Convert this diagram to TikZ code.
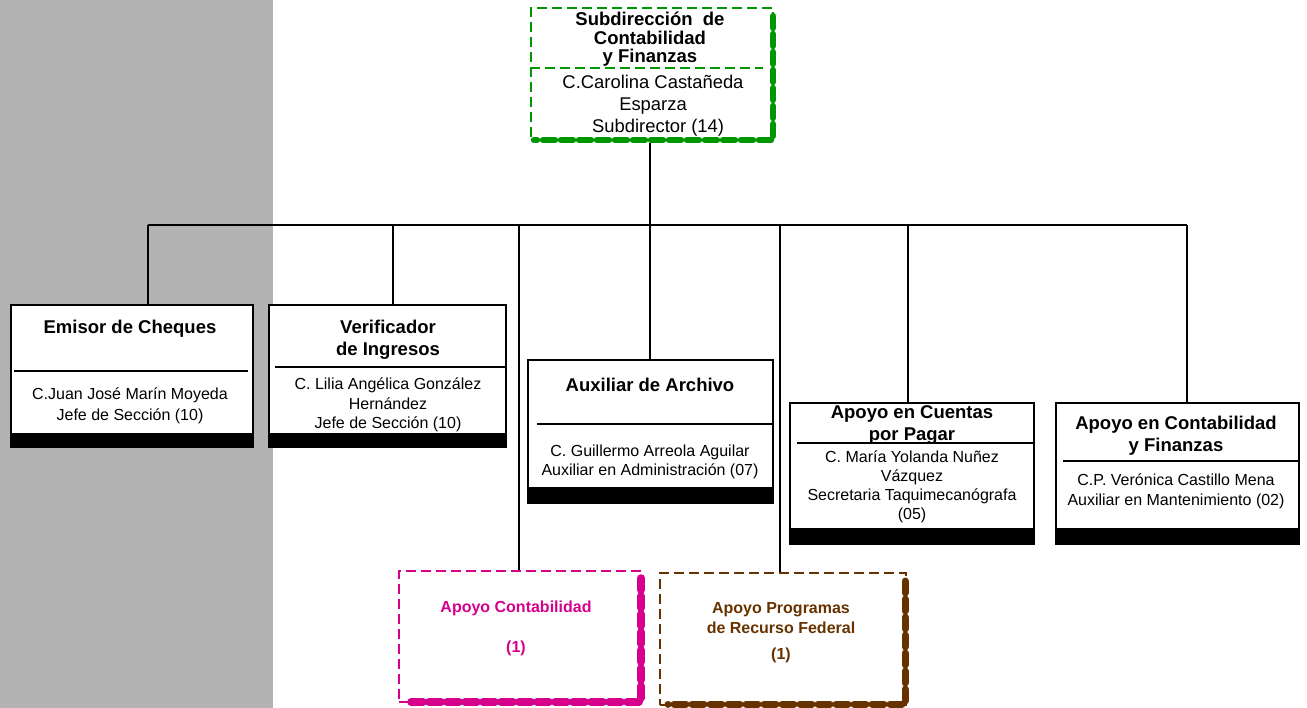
\documentclass[tikz,border=0pt]{standalone}
\usepackage{fontspec}
\setmainfont{Liberation Sans}
\definecolor{grisfondo}{RGB}{179,179,179}
\definecolor{verde}{RGB}{0,150,0}
\definecolor{rosa}{RGB}{214,0,140}
\definecolor{cafe}{RGB}{102,51,0}
\begin{document}
\begin{tikzpicture}[x=1pt,y=-1pt,
  hdr/.style={font=\bfseries\fontsize{18.5}{22}\selectfont, align=center, inner sep=0pt},
  txt/.style={font=\fontsize{16}{19.5}\selectfont, align=center, inner sep=0pt},
  sml/.style={font=\bfseries\fontsize{16}{20}\selectfont, align=center, inner sep=0pt},
  orgbox/.style={draw=black, line width=2pt, fill=white, anchor=north west, inner sep=0pt},
  bar/.style={fill=black},
  divline/.style={line width=2pt},
  conn/.style={line width=2pt},
  dbox/.style={line width=2pt, dash pattern=on 10pt off 5pt, anchor=north west, inner sep=0pt},
  shade/.style={line width=6.5pt, line cap=round, dash pattern=on 12pt off 6pt}
]
\useasboundingbox (0,0) rectangle (1307,708);
\fill[grisfondo] (0,0) rectangle (273,708);

% top box
\node[dbox, draw=verde, minimum width=242pt, minimum height=132pt] (top) at (530,7) {};
\draw[shade, verde] (773,16) -- (773,140) -- (534,140);
\draw[verde, line width=2pt, dash pattern=on 10pt off 5pt] (top.west |- 0,68) -- (763,68);
\node[hdr, font=\bfseries\fontsize{18.5}{18.5}\selectfont] (toptitle) at (650,39.5) {Subdirección\ \ de\\Contabilidad\\y Finanzas};
\node[txt, font=\fontsize{18.4}{22}\selectfont] (toptext) at (653,106) {C.Carolina Castañeda\\Esparza\\\ \ Subdirector (14)};

% bus
\coordinate (trunk) at (650,225);
\coordinate (b1) at (148,225);
\coordinate (b2) at (393,225);
\coordinate (b3) at (519,225);
\coordinate (b4) at (650,225);
\coordinate (b5) at (780,225);
\coordinate (b6) at (908,225);
\coordinate (b7) at (1187,225);
\draw[conn] (650,143) -- (trunk);
\draw[conn] (b1) -- (b7);

% Emisor
\node[orgbox, minimum width=242pt, minimum height=142pt] (emisor) at (10,304) {};
\fill[bar] (10,433) rectangle (253,447);
\draw[divline] (14,371) -- (248,371);
\node[hdr] (emisorT) at (130,329) {Emisor de Cheques};
\node[txt, font=\fontsize{16}{21}\selectfont] (emisorX) at (130,406) {C.Juan José Marín Moyeda\\Jefe de Sección (10)};

% Verificador
\node[orgbox, minimum width=237pt, minimum height=142pt] (verif) at (268,304) {};
\fill[bar] (268,433) rectangle (505,447);
\draw[divline] (275,367) -- (505,367);
\node[hdr] (verifT) at (388,340) {Verificador\\de Ingresos};
\node[txt] (verifX) at (388,405) {C. Lilia Angélica González\\Hernández\\Jefe de Sección (10)};

% Auxiliar
\node[orgbox, minimum width=245pt, minimum height=143pt] (aux) at (527,359) {};
\fill[bar] (527,487) rectangle (772,502);
\draw[divline] (537,424) -- (772,424);
\node[hdr] (auxT) at (650,385) {Auxiliar de Archivo};
\node[txt, font=\fontsize{16}{19}\selectfont] (auxX) at (650,462) {C. Guillermo Arreola Aguilar\\Auxiliar en Administración (07)};

% Cuentas
\node[orgbox, minimum width=244pt, minimum height=141pt] (cuentas) at (789,402) {};
\fill[bar] (789,528) rectangle (1033,543);
\draw[divline] (797,443) -- (1033,443);
\node[hdr] (cuentasT) at (912,425) {Apoyo en Cuentas\\por Pagar};
\node[txt, font=\fontsize{16}{19}\selectfont] (cuentasX) at (912,486.5) {C. María Yolanda Nuñez\\Vázquez\\Secretaria Taquimecanógrafa\\(05)};

% Contabilidad y Finanzas
\node[orgbox, minimum width=243pt, minimum height=141pt] (cyf) at (1055,402) {};
\fill[bar] (1055,528) rectangle (1298,543);
\draw[divline] (1063,461) -- (1298,461);
\node[hdr] (cyfT) at (1176,436) {Apoyo en Contabilidad\\y Finanzas};
\node[txt, font=\fontsize{16}{20}\selectfont] (cyfX) at (1176,491) {C.P. Verónica Castillo Mena\\Auxiliar en Mantenimiento (02)};

% Apoyo Contabilidad (pink)
\node[dbox, draw=rosa, minimum width=243pt, minimum height=131pt] (apc) at (398,570) {};
\draw[shade, rosa, line width=7.5pt] (641,578) -- (641,702) -- (406,702);
\node[sml, text=rosa] (apcT) at (516,608) {Apoyo Contabilidad};
\node[sml, text=rosa] (apcN) at (516,648) {(1)};

% Apoyo Programas (brown)
\node[dbox, draw=cafe, minimum width=246pt, minimum height=132pt] (app) at (659,572) {};
\draw[shade, cafe, line width=7pt] (905,581) -- (905,704) -- (668,704);
\node[sml, text=cafe] (appT) at (781,618) {Apoyo Programas\\de Recurso Federal};
\node[sml, text=cafe] (appN) at (781,655) {(1)};

% drops
\draw[conn] (b1) -- (b1 |- emisor.north);
\draw[conn] (b2) -- (b2 |- verif.north);
\draw[conn] (b3) -- (b3 |- apc.north);
\draw[conn] (b4) -- (b4 |- aux.north);
\draw[conn] (b5) -- (b5 |- app.north);
\draw[conn] (b6) -- (b6 |- cuentas.north);
\draw[conn] (b7) -- (b7 |- cyf.north);
\end{tikzpicture}
\end{document}
